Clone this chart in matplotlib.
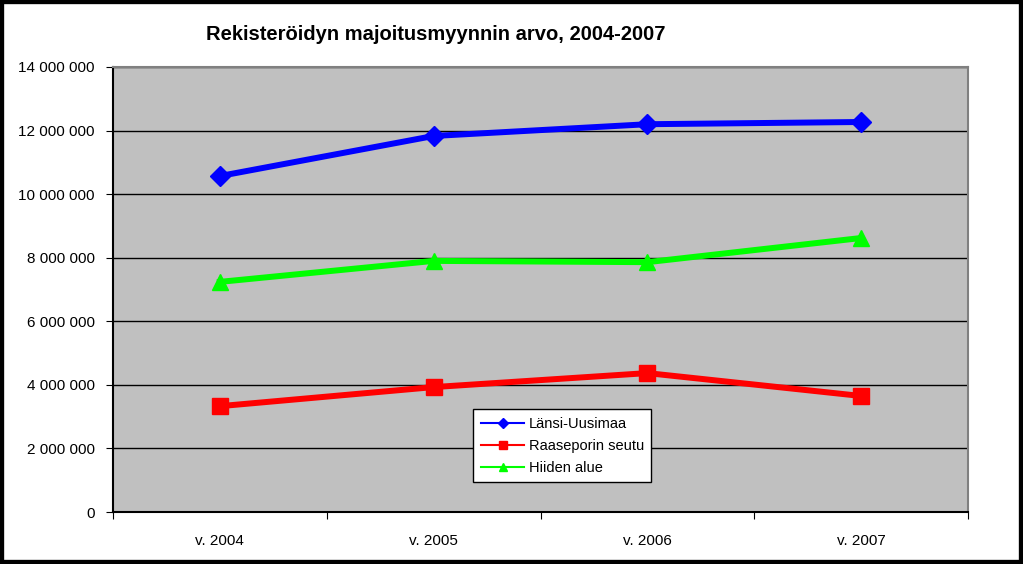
import matplotlib.pyplot as plt
from matplotlib.lines import Line2D
from matplotlib.patches import Rectangle
from matplotlib.ticker import FuncFormatter

plt.rcParams['font.family'] = ['Liberation Sans', 'DejaVu Sans']

# Data
years = ['v. 2004', 'v. 2005', 'v. 2006', 'v. 2007']
lansi_uusimaa = [10570000, 11830000, 12200000, 12270000]
raaseporin_seutu = [3330000, 3930000, 4370000, 3650000]
hiiden_alue = [7240000, 7900000, 7860000, 8620000]

fig = plt.figure(figsize=(10.23, 5.64), dpi=100)
fig.patch.set_facecolor('white')
fig.patches.append(Rectangle((0, 0), 1, 1, transform=fig.transFigure,
                             fill=False, edgecolor='black', linewidth=6))

ax = fig.add_axes([113 / 1023, 52 / 564, 855 / 1023, 445 / 564])
ax.set_facecolor('#C0C0C0')

x = range(len(years))
ax.plot(x, lansi_uusimaa, color='#0000FF', linewidth=4.3, marker='D',
        markersize=10, zorder=3)
ax.plot(x, raaseporin_seutu, color='#FF0000', linewidth=4.3, marker='s',
        markersize=11, zorder=3)
ax.plot(x, hiiden_alue, color='#00FF00', linewidth=4.3, marker='^',
        markersize=12, zorder=3)

ax.set_xlim(-0.5, 3.5)
ax.set_ylim(0, 14000000)
ax.set_yticks(range(0, 14000001, 2000000))
ax.yaxis.set_major_formatter(FuncFormatter(lambda v, p: f'{int(v):,}'.replace(',', ' ')))
ax.set_xticks([-0.5, 0.5, 1.5, 2.5, 3.5])
ax.set_xticklabels([])
ax.set_xticks(list(x), minor=True)
ax.set_xticklabels(years, minor=True)
ax.tick_params(axis='x', which='minor', length=0, pad=16, labelsize=11)
ax.tick_params(axis='x', which='major', length=5, direction='out', color='black')
ax.tick_params(axis='y', length=5, direction='out', labelsize=11, pad=8)
ax.grid(axis='y', color='black', linewidth=1)
ax.set_axisbelow(True)

ax.spines['left'].set_color('black')
ax.spines['bottom'].set_color('black')
ax.spines['top'].set_color('#808080')
ax.spines['right'].set_color('#808080')
for s in ax.spines.values():
    s.set_linewidth(1.5)

fig.text(436 / 1023, 1 - 35 / 564, 'Rekisteröidyn majoitusmyynnin arvo, 2004-2007',
         ha='center', va='center', fontsize=14.5, fontweight='bold')

handles = [
    Line2D([], [], color='#0000FF', linewidth=1.5, marker='D', markersize=5),
    Line2D([], [], color='#FF0000', linewidth=1.5, marker='s', markersize=6),
    Line2D([], [], color='#00FF00', linewidth=1.5, marker='^', markersize=6),
]
leg = ax.legend(handles, ['Länsi-Uusimaa', 'Raaseporin seutu', 'Hiiden alue'],
                loc='lower left', bbox_to_anchor=(0.413, 0.051), fontsize=10.5,
                frameon=True, fancybox=False, framealpha=1, edgecolor='black',
                handlelength=3, borderpad=0.5, labelspacing=0.55, handletextpad=0.3)
leg.get_frame().set_linewidth(1)

fig.savefig('out.png', dpi=100)
